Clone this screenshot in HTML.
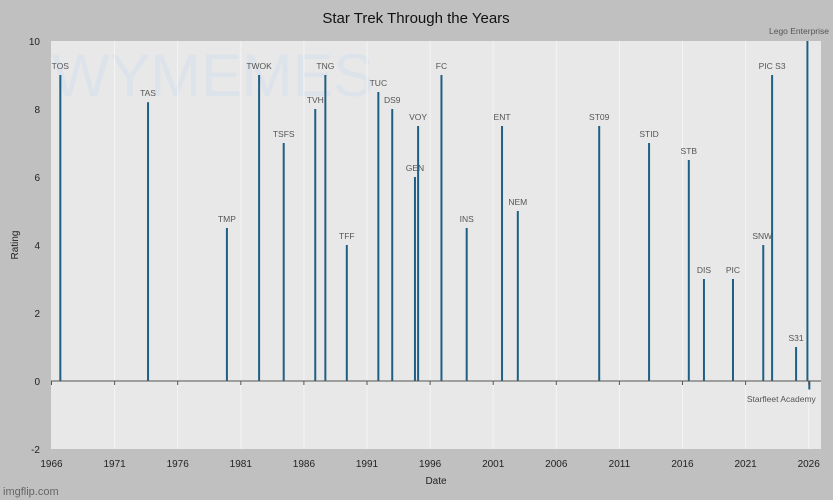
<!DOCTYPE html>
<html><head><meta charset="utf-8"><style>
html,body{margin:0;padding:0;background:#c0c0c0;}
svg{display:block;font-family:"Liberation Sans",sans-serif;}
</style></head><body>
<svg id="chart" width="833" height="500" viewBox="0 0 833 500">
<rect x="0" y="0" width="833" height="500" fill="#c0c0c0"/>
<rect x="51" y="41" width="770" height="408" fill="#e8e8e8"/>
<text x="416" y="23" text-anchor="middle" font-size="15" fill="#111">Star Trek Through the Years</text>
<text x="52" y="96" font-size="60" fill="#dde3ea" textLength="322" lengthAdjust="spacingAndGlyphs">WYMEMES</text>
<g id="grid"></g><g id="bars"></g><g id="axes"></g>
<text x="18" y="245" font-size="10" fill="#222" text-anchor="middle" transform="rotate(-90 18 245)">Rating</text>
<text x="436" y="484" font-size="10" fill="#222" text-anchor="middle">Date</text>
<text x="3" y="495" font-size="11" fill="#666">imgflip.com</text>
</svg>
<script>
const labels=["TOS","TAS","TMP","TWOK","TSFS","TVH","TNG","TFF","TUC","DS9","GEN","VOY","FC","INS","ENT","NEM","ST09","STID","STB","DIS","PIC","SNW","PIC S3","S31","Lego Enterprise","Starfleet Academy"];
const years=[1966.7,1973.65,1979.9,1982.45,1984.4,1986.9,1987.7,1989.4,1991.9,1993.0,1994.8,1995.05,1996.9,1998.9,2001.7,2002.95,2009.4,2013.35,2016.5,2017.7,2020.0,2022.4,2023.1,2025.0,2025.9,2026.05];
const ratings=[9,8.2,4.5,9,7,8,9,4,8.5,8,6,7.5,9,4.5,7.5,5,7.5,7,6.5,3,3,4,9,1,10,-0.25];
const xTicks=[1966,1971,1976,1981,1986,1991,1996,2001,2006,2011,2016,2021,2026];
const yTicks=[-2,0,2,4,6,8,10];
const NS="http://www.w3.org/2000/svg";
const xS=y=>51.5+(y-1966)*12.62;
const yS=v=>381-v*34;
function mk(tag,attrs,parent,txt){const e=document.createElementNS(NS,tag);for(const k in attrs)e.setAttribute(k,attrs[k]);if(txt!==undefined)e.textContent=txt;document.getElementById(parent).appendChild(e);return e;}
xTicks.forEach(t=>{
  if(t>1966){const g=mk("line",{x1:xS(t),x2:xS(t),y1:41,y2:449,stroke:"#f4f4f4","stroke-width":1},"grid");
  
  }
  const tk=mk("line",{x1:xS(t),x2:xS(t),y1:381,y2:385,stroke:"#555","stroke-width":1},"axes");
  
  
  const l=mk("text",{x:xS(t),y:467,"font-size":10,fill:"#222","text-anchor":"middle"},"axes",String(t));
  
  
});
yTicks.forEach(v=>{
  const l=mk("text",{x:40,y:yS(v)+4,"font-size":10,fill:"#222","text-anchor":"end"},"axes",String(v));
  
  
});
const ax=mk("line",{x1:51,x2:821,y1:381,y2:381,stroke:"#555","stroke-width":1},"axes");


labels.forEach((n,i)=>{
  const x=xS(years[i]),v=ratings[i];
  const b=mk("rect",{x:x-1,y:Math.min(yS(v),381),width:2,height:Math.abs(yS(v)-381),fill:"#1f5f85"},"bars");
  
  
  let lx=x,ly=yS(v)-6,anc="middle";
  if(v<0){ly=402;lx=x-28;}
  if(n==="Lego Enterprise"){lx=829;ly=34;anc="end";}
  if(n==="SNW"){lx=x-1;}
  const t=mk("text",{x:lx,y:ly,"font-size":8.5,fill:"#555","text-anchor":anc},"bars",n);
  
  
});
</script>
</body></html>
